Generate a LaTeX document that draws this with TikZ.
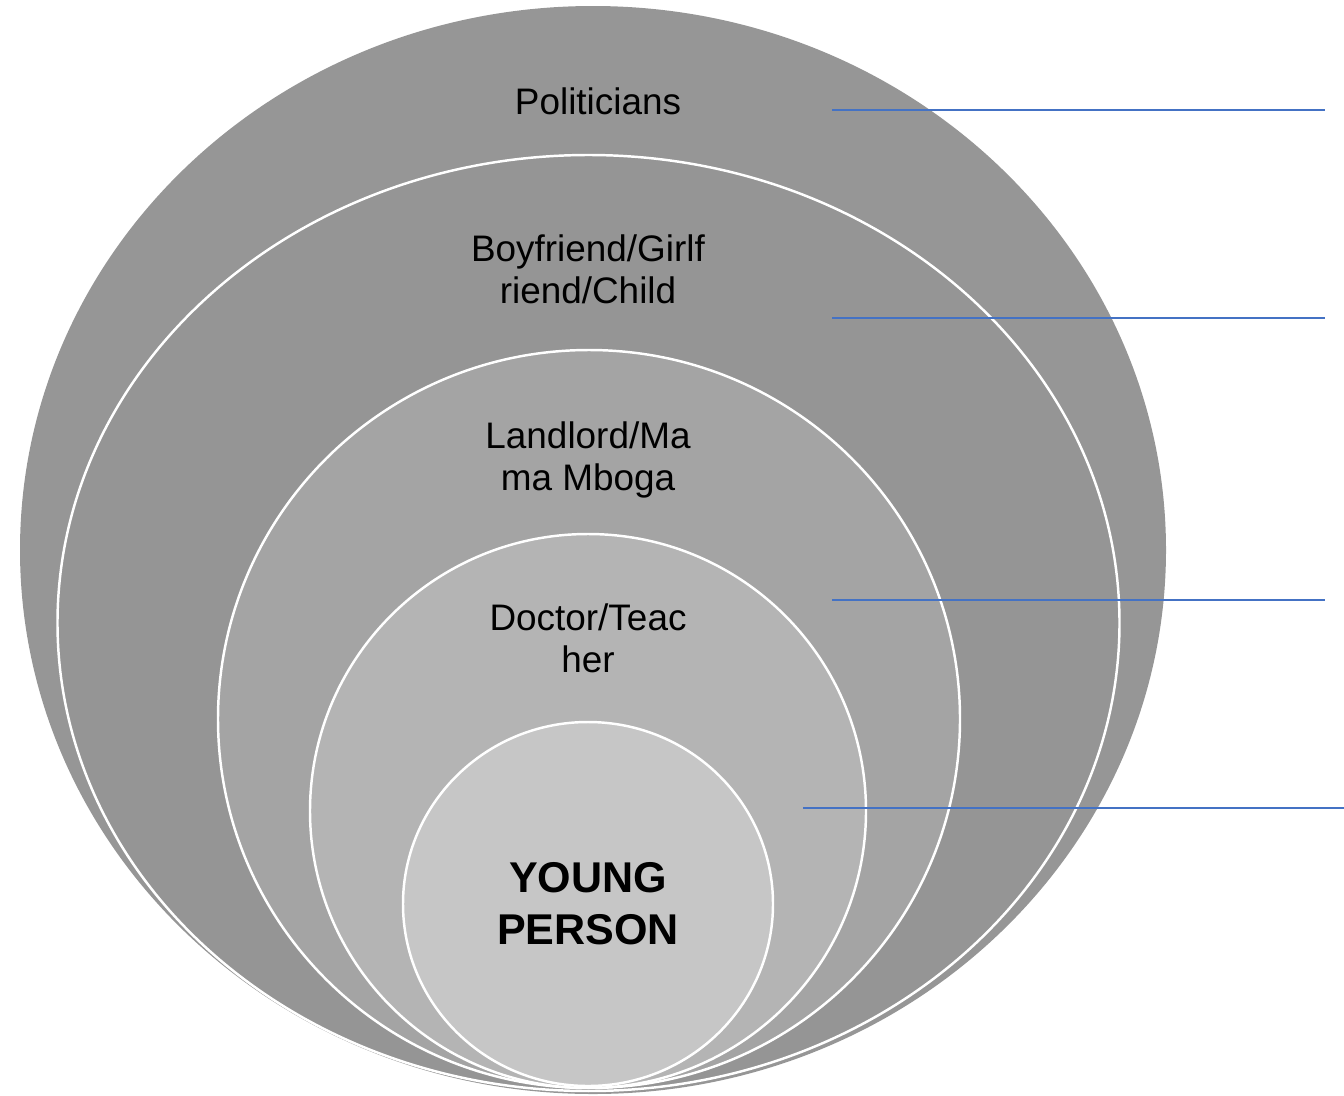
\documentclass[tikz,border=0pt]{standalone}
\usepackage{fontspec}
\setmainfont{Liberation Sans}
\usepackage{xcolor}
\definecolor{ringA}{HTML}{969696}
\definecolor{ringB}{HTML}{959595}
\definecolor{ringC}{HTML}{A4A4A4}
\definecolor{ringD}{HTML}{B4B4B4}
\definecolor{ringE}{HTML}{C6C6C6}
\definecolor{pointer}{HTML}{4472C4}
\tikzset{
  ring/.style={draw=white, line width=1.4pt},
  lbl/.style={align=center, font=\fontsize{21}{24}\selectfont},
  pointline/.style={draw=pointer, line width=0.6pt}
}

\begin{document}
\begin{tikzpicture}[x=0.2mm, y=-0.2mm]
\useasboundingbox (0,0) rectangle (1344,1095);
% nested circles
\fill[ringA] (593,550) ellipse [x radius=573, y radius=544];
\path[ring, fill=ringB] (588.5,623) ellipse [x radius=531, y radius=468];
\path[ring, fill=ringC] (589,719) ellipse [x radius=371, y radius=369];
\path[ring, fill=ringD] (588,811) ellipse [x radius=278, y radius=277];
\path[ring, fill=ringE] (588,904) ellipse [x radius=185, y radius=182];
% labels
\node[lbl] (politicians) at (598,101) {Politicians};
\node[lbl] (partner) at (588,269) {Boyfriend/Girlf\\riend/Child};
\node[lbl] (landlord) at (588,460) {Landlord/Ma\\ma Mboga};
\node[lbl] (doctor) at (588,638) {Doctor/Teac\\her};
\node[align=center, font=\fontsize{24.5}{29.5}\selectfont\bfseries] (young) at (588,904) {YOUNG\\PERSON};
% pointer lines
\coordinate (s1) at (832,110);
\coordinate (e1) at (1325,110);
\coordinate (s2) at (832,318);
\coordinate (e2) at (1325,318);
\coordinate (s3) at (832,600);
\coordinate (e3) at (1325,600);
\coordinate (s4) at (803,808);
\coordinate (e4) at (1344,808);
\draw[pointline] (s1) -- (e1);
\draw[pointline] (s2) -- (e2);
\draw[pointline] (s3) -- (e3);
\draw[pointline] (s4) -- (e4);
\end{tikzpicture}
\end{document}
